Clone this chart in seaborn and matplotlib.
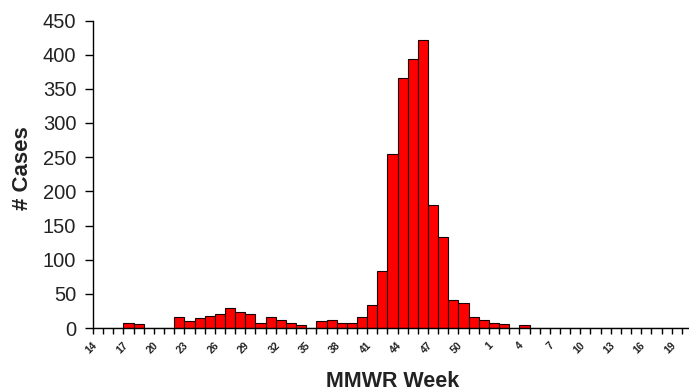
import numpy as np
import pandas as pd
import matplotlib
matplotlib.use("Agg")
import matplotlib.pyplot as plt
import matplotlib.transforms as mtransforms
import seaborn as sns

# MMWR weeks (season runs from week 14 through week 20 of the next year)
weeks = [14, 15, 16, 17, 18, 19, 20, 21, 22, 23, 24, 25, 26, 27, 28, 29, 30,
         31, 32, 33, 34, 35, 36, 37, 38, 39, 40, 41, 42, 43, 44, 45, 46, 47,
         48, 49, 50, 51, 52, 1, 2, 3, 4, 5, 6, 7, 8, 9, 10, 11, 12, 13, 14,
         15, 16, 17, 18, 19, 20]
cases = [0, 0, 0, 8, 6, 0, 0, 0, 16, 10, 15, 18, 21, 30, 24, 20, 8,
         16, 12, 8, 4, 0, 10, 11, 7, 8, 16, 34, 83, 255, 366, 393, 422, 180,
         133, 41, 36, 16, 11, 8, 6, 0, 4, 0, 0, 0, 0, 0, 0, 0, 0, 0, 0,
         0, 0, 0, 0, 0, 0]
y_ticks = [0, 50, 100, 150, 200, 250, 300, 350, 400, 450]

sns.set_style("ticks")
plt.rcParams["font.family"] = ["Liberation Sans", "DejaVu Sans"]

df = pd.DataFrame({"pos": np.arange(len(weeks)), "cases": cases})

fig = plt.figure(figsize=(6.89, 3.92), dpi=100)
ax = fig.add_axes([93 / 689, 64 / 392, 599 / 689, 307.5 / 392])

sns.barplot(data=df, x="pos", y="cases", color="#ff0000", saturation=1,
            width=1.0, edgecolor="#1a0000", linewidth=0.8, ax=ax)

ax.set_xlim(-0.5, len(weeks) - 0.5)
ax.set_ylim(0, 450)
ax.set_yticks(y_ticks)
ax.tick_params(axis="y", labelsize=14.5, length=6, width=1, color="black",
               labelcolor="#222222", pad=6)

# labels every third week, tick marks between categories
lab_pos = np.arange(0, len(weeks), 3)
ax.set_xticks(lab_pos)
ax.set_xticklabels([str(weeks[i]) for i in lab_pos], rotation=45,
                   ha="right", rotation_mode="anchor")
ax.set_xticks(np.arange(len(weeks) + 1) - 0.5, minor=True)
ax.tick_params(axis="x", which="major", length=0, labelsize=7.5, pad=9,
               labelcolor="#222222")
ax.tick_params(axis="x", which="minor", length=4, width=1, color="black")
shift = mtransforms.ScaledTranslation(-6 / 100, 0, fig.dpi_scale_trans)
for lab in ax.get_xticklabels():
    lab.set_fontweight("bold")
    lab.set_transform(lab.get_transform() + shift)

ax.set_ylabel("# Cases", fontsize=16, fontweight="bold", color="#222222")
ax.yaxis.set_label_coords(-0.101, 0.52)
ax.set_xlabel("MMWR Week", fontsize=15.5, fontweight="bold", color="#222222",
              labelpad=11)

sns.despine(ax=ax)
for s in ["left", "bottom"]:
    ax.spines[s].set_color("black")
    ax.spines[s].set_linewidth(1)

fig.savefig("out.png", dpi=100)
